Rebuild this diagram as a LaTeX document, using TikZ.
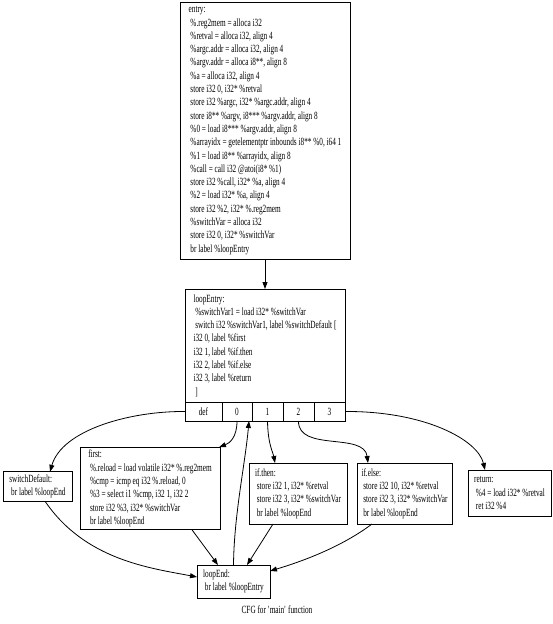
\documentclass[tikz,border=0pt]{standalone}
\usepackage{fontspec}
\setmainfont{Liberation Serif}[FakeStretch=0.66]
\usepackage{tikz}
\usetikzlibrary{arrows.meta, positioning}

\tikzset{
    block/.style={draw, line width=0.8pt, align=left, inner sep=3pt, outer sep=0pt,
        font=\fontsize{11}{13.3}\selectfont},
    port/.style={draw, line width=0.8pt, align=center, inner sep=0pt, outer sep=0pt,
        minimum height=19pt, font=\fontsize{11}{13.3}\selectfont},
    edge/.style={draw, line width=0.8pt, -{Triangle[length=7pt,width=5pt]}}
}

\begin{document}
\begin{tikzpicture}[x=1pt, y=-1pt]
    \useasboundingbox (0,0) rectangle (553,624);
    % entry block
    \node[block, minimum width=170pt, minimum height=257pt] (entry) at (265,130.5) {entry:\\
        \ \%.reg2mem = alloca i32\\
        \ \%retval = alloca i32, align 4\\
        \ \%argc.addr = alloca i32, align 4\\
        \ \%argv.addr = alloca i8**, align 8\\
        \ \%a = alloca i32, align 4\\
        \ store i32 0, i32* \%retval\\
        \ store i32 \%argc, i32* \%argc.addr, align 4\\
        \ store i8** \%argv, i8*** \%argv.addr, align 8\\
        \ \%0 = load i8*** \%argv.addr, align 8\\
        \ \%arrayidx = getelementptr inbounds i8** \%0, i64 1\\
        \ \%1 = load i8** \%arrayidx, align 8\\
        \ \%call = call i32 @atoi(i8* \%1)\\
        \ store i32 \%call, i32* \%a, align 4\\
        \ \%2 = load i32* \%a, align 4\\
        \ store i32 \%2, i32* \%.reg2mem\\
        \ \%switchVar = alloca i32\\
        \ store i32 0, i32* \%switchVar\\
        \ br label \%loopEntry};
    % loopEntry block with its switch ports
    \node[block, minimum width=160pt, minimum height=113pt] (loopEntry) at (265,345.5) {loopEntry:\\
        \ \%switchVar1 = load i32* \%switchVar\\
        \ switch i32 \%switchVar1, label \%switchDefault [\\
        i32 0, label \%first\\
        i32 1, label \%if.then\\
        i32 2, label \%if.else\\
        i32 3, label \%return\\
        \ ]};
    \node[port, minimum width=37pt, anchor=north west] (def) at (loopEntry.south west) {def};
    \node[port, minimum width=30pt, right=0pt of def] (p0) {0};
    \node[port, minimum width=31pt, right=0pt of p0] (p1) {1};
    \node[port, minimum width=31pt, right=0pt of p1] (p2) {2};
    \node[port, minimum width=31pt, right=0pt of p2] (p3) {3};
    % case blocks
    \node[block, minimum width=69pt, minimum height=29pt] (swDefault) at (37.5,486.5) {switchDefault:\\
        \ br label \%loopEnd};
    \node[block, minimum width=140pt, minimum height=77pt] (first) at (150,488.5) {first:\\
        \ \%.reload = load volatile i32* \%.reg2mem\\
        \ \%cmp = icmp eq i32 \%.reload, 0\\
        \ \%3 = select i1 \%cmp, i32 1, i32 2\\
        \ store i32 \%3, i32* \%switchVar\\
        \ br label \%loopEnd};
    \node[block, minimum width=98pt, minimum height=61pt] (ifThen) at (298,493.5) {if.then:\\
        \ store i32 1, i32* \%retval\\
        \ store i32 3, i32* \%switchVar\\
        \ br label \%loopEnd};
    \node[block, minimum width=95pt, minimum height=61pt] (ifElse) at (404.5,493.5) {if.else:\\
        \ store i32 10, i32* \%retval\\
        \ store i32 3, i32* \%switchVar\\
        \ br label \%loopEnd};
    \node[block, minimum width=83pt, minimum height=46pt] (ret) at (509.5,493) {return:\\
        \ \%4 = load i32* \%retval\\
        \ ret i32 \%4};
    % loopEnd block
    \node[block, minimum width=73pt, minimum height=33pt] (loopEnd) at (233.5,581.5) {loopEnd:\\
        \ br label \%loopEntry};
    \node (caption) at (277,610) {\fontsize{11}{13.3}\selectfont CFG for \textquotesingle main\textquotesingle\ function};
    % edges
    \draw[edge] (entry.south) -- (loopEntry.north);
    \draw[edge] (def.west) .. controls (130,411) and (62,430) .. ([xshift=12.5pt]swDefault.north);
    \draw[edge] (p0.south) .. controls (237,437) and (230,443) .. ([xshift=-1pt]first.north east);
    \draw[edge] (p1.south) .. controls (268,445) and (273,452) .. ([xshift=-23pt]ifThen.north);
    \draw[edge] (p2.south) .. controls (298,452) and (364,432) .. ([xshift=-36.5pt]ifElse.north);
    \draw[edge] (p3.east) .. controls (425,411) and (478,440) .. ([xshift=-24.5pt]ret.north);
    \draw[edge] (loopEnd.north) .. controls (234,515) and (245,465) .. ([xshift=12pt]p0.south);
    \draw[edge] ([xshift=7.5pt]swDefault.south) .. controls (85,560) and (150,568) .. ([yshift=4.5pt]loopEnd.west);
    \draw[edge] ([xshift=42pt]first.south) -- ([xshift=-15.5pt]loopEnd.north);
    \draw[edge] ([xshift=-25pt]ifThen.south) -- ([xshift=13.5pt]loopEnd.north);
    \draw[edge] ([xshift=-32.5pt]ifElse.south) .. controls (340,548) and (300,562) .. ([yshift=10.5pt]loopEnd.east);
\end{tikzpicture}
\end{document}
